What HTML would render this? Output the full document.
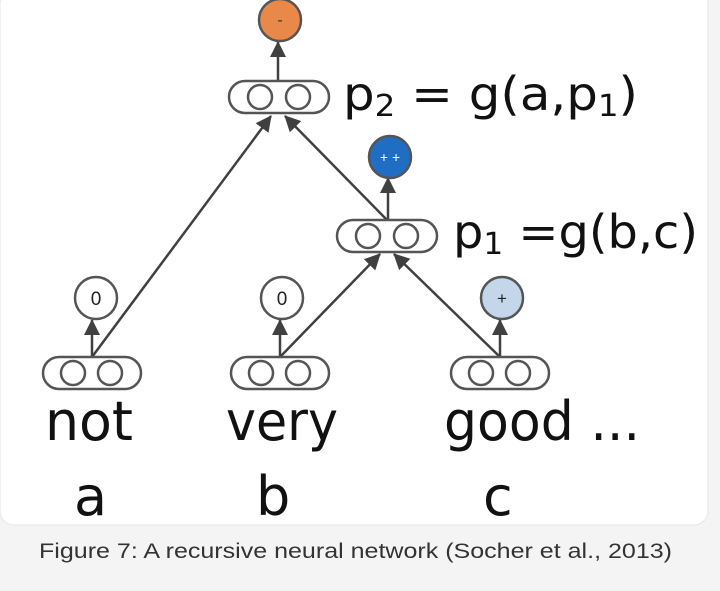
<!DOCTYPE html>
<html><head><style>html,body{margin:0;padding:0;background:#f4f4f4}</style></head>
<body>
<svg width="720" height="586" viewBox="0 0 720 586" xmlns="http://www.w3.org/2000/svg">
<defs><marker id="ar" markerWidth="10" markerHeight="10" refX="9" refY="5" orient="auto" markerUnits="userSpaceOnUse"><path d="M0,0 L10,5 L0,10 z" fill="#404040"/></marker>
<marker id="arb" markerWidth="16" markerHeight="16" refX="15" refY="8" orient="auto" markerUnits="userSpaceOnUse"><path d="M0,0 L16,8 L0,16 z" fill="#404040"/></marker></defs>
<rect x="0" y="-10" width="708" height="535" rx="14" fill="#fff" stroke="#e6e6e6"/>
<g stroke="#404040" stroke-width="2.5" fill="none">
<line x1="92" y1="357" x2="271" y2="116" marker-end="url(#arb)"/>
<line x1="387" y1="220" x2="285" y2="116" marker-end="url(#arb)"/>
<line x1="280" y1="357" x2="380" y2="254" marker-end="url(#arb)"/>
<line x1="500" y1="357" x2="394" y2="254" marker-end="url(#arb)"/>
<line x1="278" y1="80" x2="278" y2="42" marker-end="url(#arb)"/>
<line x1="388" y1="220" x2="388" y2="178" marker-end="url(#arb)"/>
<line x1="92" y1="357" x2="92" y2="320" marker-end="url(#arb)"/>
<line x1="280" y1="357" x2="280" y2="320" marker-end="url(#arb)"/>
<line x1="500" y1="357" x2="500" y2="320" marker-end="url(#arb)"/>
</g>
<g stroke="#555" stroke-width="2.5" fill="#fff">
<rect x="229" y="81" width="100" height="32" rx="16"/><circle cx="260" cy="97" r="12"/><circle cx="298" cy="97" r="12"/>
<rect x="337" y="220" width="100" height="32" rx="16"/><circle cx="368" cy="236" r="12"/><circle cx="406" cy="236" r="12"/>
<rect x="43" y="357" width="98" height="32" rx="16"/><circle cx="73" cy="373" r="12"/><circle cx="110" cy="373" r="12"/>
<rect x="231" y="357" width="98" height="32" rx="16"/><circle cx="261" cy="373" r="12"/><circle cx="298" cy="373" r="12"/>
<rect x="451" y="357" width="98" height="32" rx="16"/><circle cx="481" cy="373" r="12"/><circle cx="518" cy="373" r="12"/>
<circle cx="280" cy="20" r="21" fill="#e8894a"/>
<circle cx="390" cy="157" r="21" fill="#1f6ec4"/>
<circle cx="96" cy="298" r="21"/>
<circle cx="282" cy="298" r="21"/>
<circle cx="502" cy="298" r="21" fill="#c3d6ea"/>
</g>
<g font-family="Liberation Sans, sans-serif" text-anchor="middle">
<text x="280" y="25" font-size="16" fill="#333">-</text>
<text x="390" y="162" font-size="14" fill="#fff">+ +</text>
<text x="96" y="305" font-size="19" fill="#222">0</text>
<text x="282" y="305" font-size="19" fill="#222">0</text>
<text x="502" y="304" font-size="17" fill="#222">+</text>
</g>
<g font-family="DejaVu Sans, Liberation Sans, sans-serif" fill="#111">
<text x="343" y="110" font-size="46" textLength="295" lengthAdjust="spacingAndGlyphs">p<tspan font-size="30" dy="6">2</tspan><tspan dy="-6"> = g(a,p</tspan><tspan font-size="30" dy="6">1</tspan><tspan dy="-6">)</tspan></text>
<text x="453" y="248" font-size="46" textLength="245" lengthAdjust="spacingAndGlyphs">p<tspan font-size="30" dy="6">1</tspan><tspan dy="-6"> =g(b,c)</tspan></text>
<text x="45" y="440" font-size="54" textLength="88" lengthAdjust="spacingAndGlyphs">not</text>
<text x="226" y="440" font-size="54" textLength="112" lengthAdjust="spacingAndGlyphs">very</text>
<text x="444" y="440" font-size="54" textLength="196" lengthAdjust="spacingAndGlyphs">good ...</text>
<text x="74" y="515" font-size="54">a</text>
<text x="256" y="515" font-size="54">b</text>
<text x="483" y="515" font-size="54">c</text>
</g>
<text x="39" y="558" font-family="Liberation Sans, sans-serif" font-size="21" fill="#333" textLength="633" lengthAdjust="spacingAndGlyphs">Figure 7: A recursive neural network (Socher et al., 2013)</text>
</svg>
</body></html>
